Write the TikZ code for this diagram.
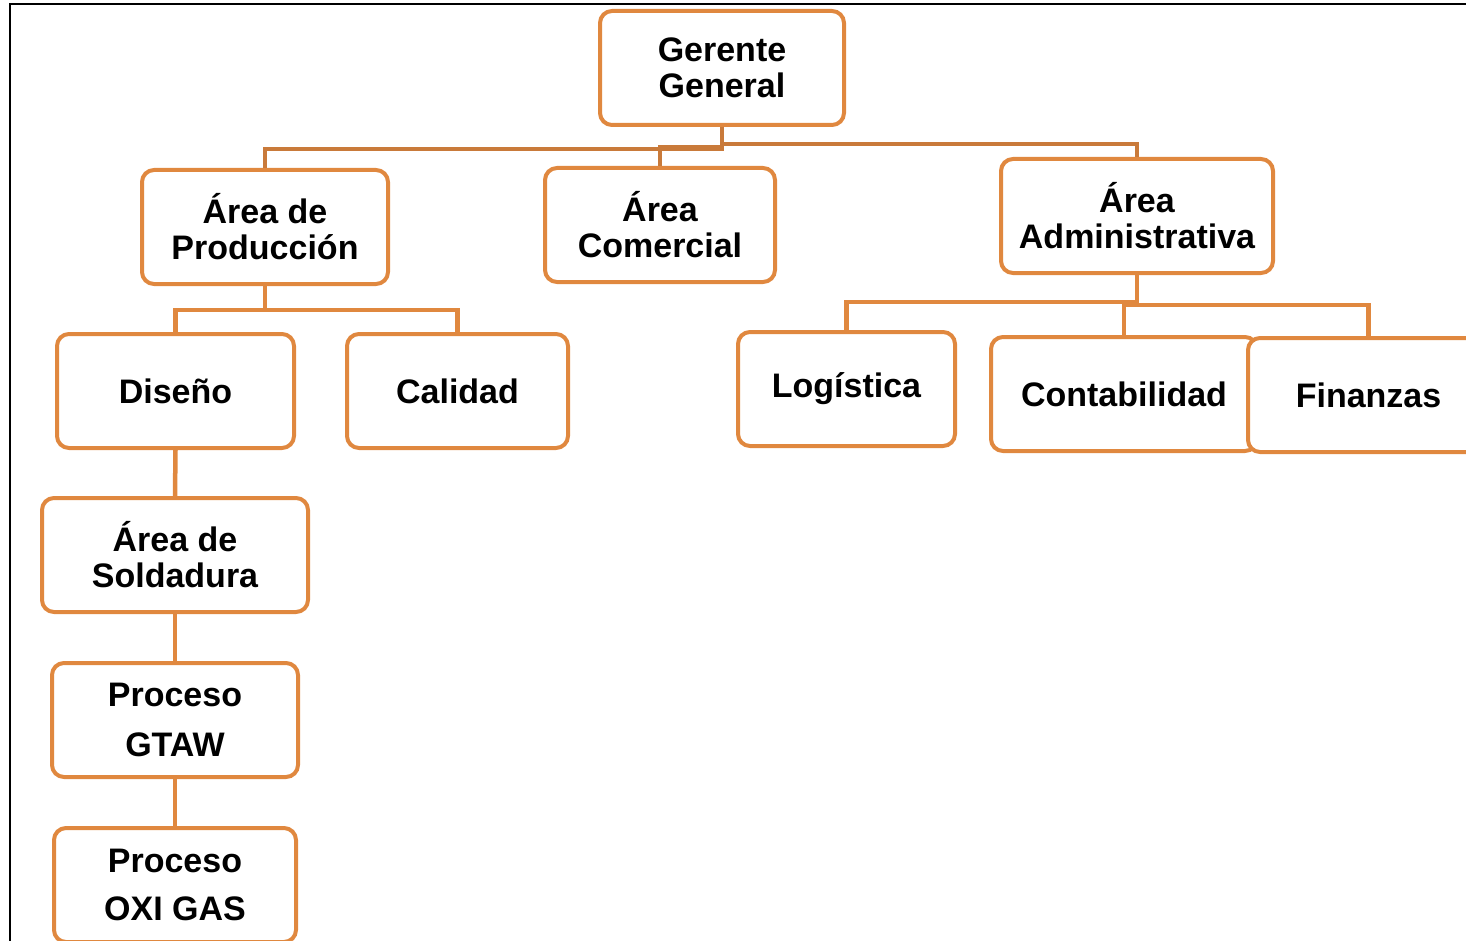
\documentclass[tikz,border=0pt]{standalone}
\usepackage{fontspec}
\setmainfont{Liberation Sans}
\usepackage{tikz}
\usetikzlibrary{positioning,calc}
\definecolor{boxorange}{HTML}{E0883F}
\definecolor{linkorange}{HTML}{C97A3A}

\begin{document}
\begin{tikzpicture}[
x=1pt,y=-1pt,
box/.style={
  draw=boxorange,
  fill=white,
  line width=4pt,
  rounded corners=12pt,
  minimum height=114pt,
  align=center,
  inner sep=2pt,
  font=\fontsize{34}{36}\selectfont\bfseries
  },
link/.style={
  draw=linkorange,
  line width=4.5pt
  },
sublink/.style={
  draw=boxorange,
  line width=4.5pt
  }
]
\useasboundingbox (0,0) rectangle (1466,941);
\clip (0,0) rectangle (1466,941);
% frame
\draw[line width=2.5pt] (10,945) -- (10,4) -- (1470,4);

% first level
\node[box, minimum width=244pt] (ger) at (722,68) {Gerente\\General};
\node[box, minimum width=246pt] (prod) at (265,227) {Área de\\Producción};
\node[box, minimum width=230pt] (com) at (660,225) {Área\\Comercial};
\node[box, minimum width=272pt] (adm) at (1137,216) {Área\\Administrativa};

% second level
\node[box, minimum width=237pt] (dis) at (175.5,391) {Diseño};
\node[box, minimum width=221pt] (cal) at (457.5,391) {Calidad};
\node[box, minimum width=217pt] (log) at (846.5,389) {Logística};
\node[box, minimum width=266pt] (cont) at (1124,394) {Contabilidad};
\node[box, minimum width=241pt] (fin) at (1368.5,395) {Finanzas};

% welding chain
\node[box, minimum width=266pt] (sold) at (175,555) {Área de\\Soldadura};
\node[box, minimum width=246pt] (gtaw) at (175,720) {Proceso\\[14pt]GTAW};
\node[box, minimum width=242pt] (oxi) at (175,885) {Proceso\\[12pt]OXI GAS};

% connectors
\draw[link] (ger.south) -- ++(0,22) -| (prod.north);
\draw[link] (ger.south) ++(0,20) -| (com.north);
\draw[link] (ger.south) -- ++(0,17) -| (adm.north);
\draw[sublink] (prod.south) -- ++(0,24) -| (dis.north);
\draw[sublink] (prod.south) ++(0,24) -| (cal.north);
\draw[sublink] (adm.south) -- ++(0,27) -| (log.north);
\draw[sublink] (cont.north) -- ++(0,-30) -| (fin.north);
\draw[sublink] (dis.south) -- (sold.north);
\draw[sublink] (sold.south) -- (gtaw.north);
\draw[sublink] (gtaw.south) -- (oxi.north);
\end{tikzpicture}
\end{document}
